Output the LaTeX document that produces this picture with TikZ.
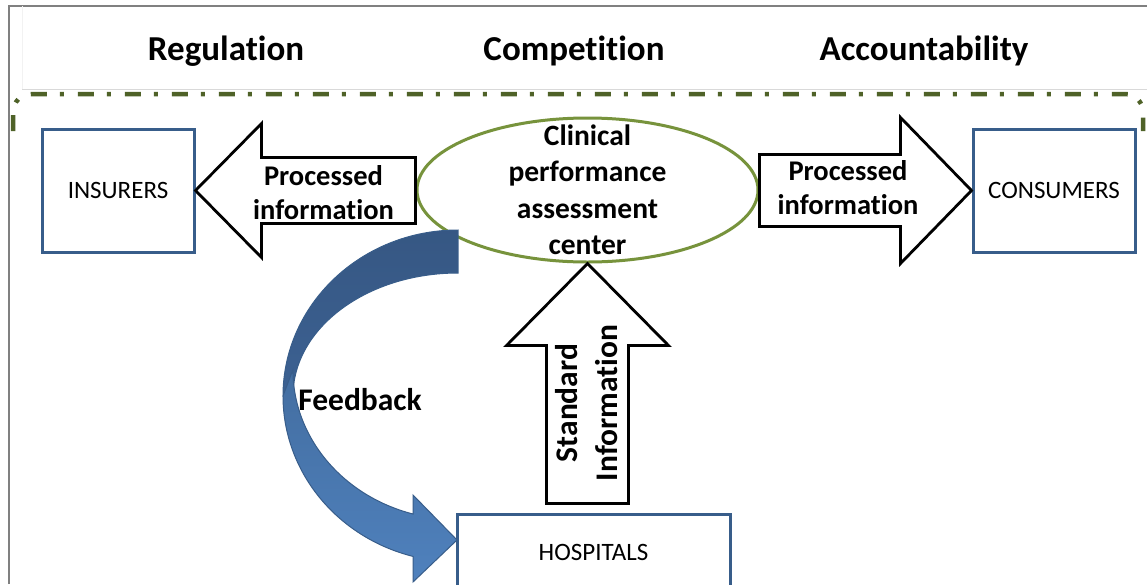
\documentclass[tikz,border=0pt]{standalone}
\usepackage{fontspec}
\setmainfont[Ligatures=NoCommon]{Carlito}
\usetikzlibrary{shapes.geometric}
\usetikzlibrary{calc}

\definecolor{boxblue}{RGB}{56,93,138}
\definecolor{ringgreen}{RGB}{119,147,60}
\definecolor{dashgreen}{RGB}{79,98,40}
\definecolor{backblue}{RGB}{60,97,146}
\definecolor{frontblue}{RGB}{79,129,189}

\begin{document}
\begin{tikzpicture}[x=1pt,y=-1pt,
	actor/.style={draw=boxblue, line width=3pt, fill=white, inner sep=0, font=\fontsize{25}{30}\selectfont},
	blockarrow/.style={draw=black, line width=2.8pt, fill=white, line join=miter},
	arrowtext/.style={align=center, inner sep=0, font=\fontsize{28.5}{34}\selectfont\bfseries},
	header/.style={anchor=base, font=\fontsize{35}{42}\selectfont\bfseries}]

	\clip (0,0) rectangle (1147,584);
	\fill[white] (0,0) rectangle (1147,584);

	% frame and title strip
	\draw[gray, line width=2pt] (9,584) -- (9,6) -- (1147,6);
	\draw[black!5, line width=1pt] (22,6) -- (22,89);
	\draw[black!15, line width=1pt] (22,89) -- (1147,89);
	\draw[dashgreen, line width=4.5pt, dash pattern=on 16pt off 13pt on 4pt off 14pt, rounded corners=18pt] (13,131) -- (13,94) -- (1143,94) -- (1143,131);

	\node[header] (reg) at (226,60) {Regulation};
	\node[header] (comp) at (574,60) {Competition};
	\node[header] (acc) at (924,60) {Accountability};

	% actors
	\node[actor, minimum width=152, minimum height=123] (ins) at (118,190.5) {INSURERS};
	\node[actor, minimum width=162, minimum height=123] (con) at (1054,190.5) {CONSUMERS};
	\node[actor, minimum width=273, minimum height=76] (hosp) at (593.5,552) {HOSPITALS};
	\node[ellipse, draw=ringgreen, line width=3pt, minimum width=341, minimum height=144, inner sep=0] (cpac) at (587.5,190) {};
	\node[arrowtext, font=\fontsize{29.5}{36.5}\selectfont\bfseries] (ctext) at (cpac) {Clinical\\performance\\assessment\\center};

	% block arrows
	\draw[blockarrow] (ins.east) -- ++(66,-67) -- ++(0,34) -- ($(ins.east -| cpac.west)+(0,-33)$) -- ++(0,66) -- ($(ins.east)+(66,33)$) -- ++(0,34) -- cycle;
	\draw[blockarrow] (con.west) -- ++(-71,-73) -- ++(0,37) -- ($(con.west -| cpac.east)+(0,-36)$) -- ++(0,72) -- ($(con.west)+(-71,36)$) -- ++(0,37) -- cycle;
	\draw[blockarrow] (cpac.south) -- ++(-81,82) -- ++(40,0) -- ($(cpac.south |- hosp.north)+(-41,-9)$) -- ++(82,0) -- ($(cpac.south)+(41,82)$) -- ++(40,0) -- cycle;

	\node[arrowtext] (lproc) at (323.5,193) {Processed\\information};
	\node[arrowtext] (rproc) at (848,188) {Processed\\information};
	\node[arrowtext, font=\fontsize{31.5}{40}\selectfont\bfseries, rotate=90] (std) at (587,403) {Standard\\Information};

	% feedback arrow
	\path[top color=backblue!90!black, bottom color=backblue, draw=boxblue, line width=1pt] (458,230) arc[start angle=270, end angle=180, x radius=175, y radius=166] -- (293,396) arc[start angle=180, end angle=270, x radius=165, y radius=123] -- cycle;
	\path[top color=frontblue!85!black, bottom color=frontblue, draw=boxblue, line width=1pt] (283,396) arc[start angle=180, end angle=104.9, x radius=175, y radius=166] -- (413,582) -- (457,540) -- (413,495) -- (413,514) arc[start angle=105.8, end angle=180, x radius=165, y radius=150] -- cycle;
	\node[arrowtext, font=\fontsize{31.5}{38}\selectfont\bfseries] (fb) at (360,400) {Feedback};

\end{tikzpicture}
\end{document}
